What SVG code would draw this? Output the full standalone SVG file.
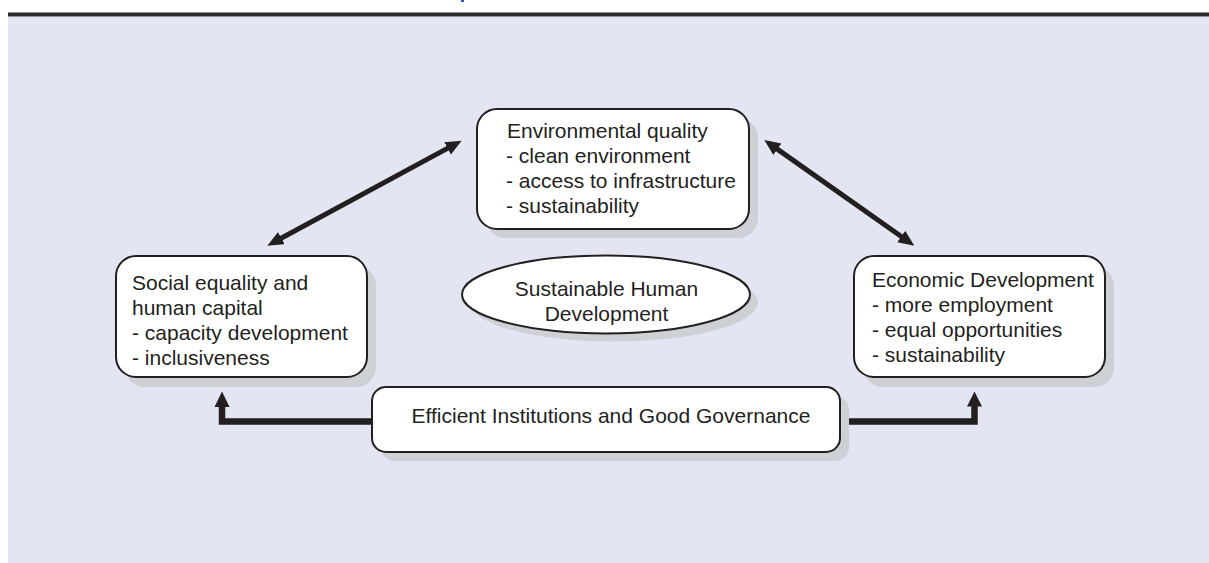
<svg xmlns="http://www.w3.org/2000/svg" width="1209" height="563" viewBox="0 0 1209 563">
  <defs>
    <style>
      .box { fill: #ffffff; stroke: #231f20; stroke-width: 2; }
      .shadow { fill: #cdd0d5; }
      .t { font-family: "Liberation Sans", Arial, sans-serif; font-size: 21px; fill: #231f20; }
      .c { text-anchor: middle; }
      .dia { stroke: #231f20; stroke-width: 5; fill: none; marker-start: url(#ah); marker-end: url(#ah); }
      .elbow { stroke: #231f20; stroke-width: 6.5; fill: none; stroke-linejoin: miter; }
      .head { fill: #231f20; }
    </style>
    <marker id="ah" markerUnits="userSpaceOnUse" markerWidth="17" markerHeight="15" refX="4" refY="7" orient="auto-start-reverse" viewBox="0 0 17 15">
      <path d="M0,0 L16,7 L0,14 z" fill="#231f20"/>
    </marker>
  </defs>

  <rect x="0" y="0" width="1209" height="563" fill="#ffffff"/>
  <rect x="8" y="16.5" width="1201" height="546.5" fill="#e3e5f2"/>
  <rect x="8" y="12" width="1201" height="1" fill="#8a8c90"/>
  <rect x="8" y="13" width="1201" height="3.5" fill="#2a2b2f"/>
  <rect x="461" y="0" width="3" height="2" fill="#2b5fb0"/>

  <g id="connectors">
    <line class="dia" x1="277.9" y1="240.0" x2="451.1" y2="146.4"/>
    <line class="dia" x1="774.1" y1="146.9" x2="904.5" y2="238.8"/>
    <path class="elbow" d="M372,421.5 H222 V404"/>
    <polygon class="head" points="222,391.5 229.5,407 214.5,407"/>
    <path class="elbow" d="M849,421.5 H974.5 V404"/>
    <polygon class="head" points="974.5,391.5 982,406.5 967,406.5"/>
  </g>

  <g id="env">
    <rect class="shadow" x="486" y="118" width="272" height="120" rx="20"/>
    <rect class="box" x="477" y="109" width="272" height="120" rx="20"/>
    <text class="t" x="507" y="138">Environmental quality</text>
    <text class="t" x="506" y="163">- clean environment</text>
    <text class="t" x="506" y="188">- access to infrastructure</text>
    <text class="t" x="506" y="213">- sustainability</text>
  </g>

  <g id="social">
    <rect class="shadow" x="125" y="266" width="251" height="121" rx="20"/>
    <rect class="box" x="116" y="256" width="251" height="121" rx="20"/>
    <text class="t" x="132" y="290">Social equality and</text>
    <text class="t" x="132" y="315">human capital</text>
    <text class="t" x="132" y="340">- capacity development</text>
    <text class="t" x="132" y="365">- inclusiveness</text>
  </g>

  <g id="economic">
    <rect class="shadow" x="863" y="266" width="251" height="121" rx="20"/>
    <rect class="box" x="854" y="256" width="251" height="121" rx="20"/>
    <text class="t" x="872" y="287">Economic Development</text>
    <text class="t" x="872" y="312">- more employment</text>
    <text class="t" x="872" y="337">- equal opportunities</text>
    <text class="t" x="872" y="362">- sustainability</text>
  </g>

  <g id="sustainable">
    <ellipse class="shadow" cx="614" cy="302.5" rx="144" ry="39"/>
    <ellipse class="box" cx="606" cy="294.5" rx="144" ry="39"/>
    <text class="t c" x="606.5" y="295.5">Sustainable Human</text>
    <text class="t c" x="606.5" y="320.5">Development</text>
  </g>

  <g id="institutions">
    <rect class="shadow" x="381" y="396" width="468" height="65" rx="14"/>
    <rect class="box" x="372" y="387" width="468" height="65" rx="14"/>
    <text class="t c" x="611" y="423">Efficient Institutions and Good Governance</text>
  </g>
</svg>
